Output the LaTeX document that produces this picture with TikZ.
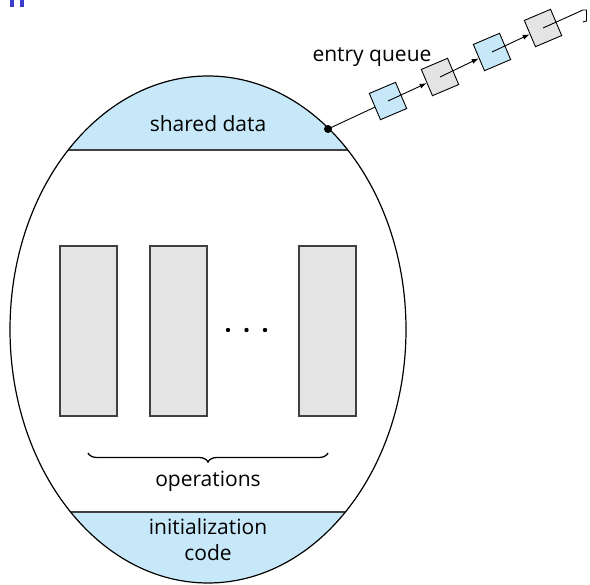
\documentclass[tikz,border=0pt]{standalone}
\usepackage{fontspec}
\setmainfont{Open Sans}
\usetikzlibrary{decorations.pathreplacing,arrows.meta}
\definecolor{bandblue}{HTML}{C7E8F8}
\definecolor{boxgray}{HTML}{E4E4E4}
\definecolor{edgegray}{HTML}{404040}
\definecolor{titleblue}{HTML}{3C3CCC}
\tikzset{
  opbox/.style={draw=edgegray, fill=boxgray, line width=1.2pt, minimum width=57pt, minimum height=170pt, inner sep=0pt},
  qbox/.style={draw=black, line width=0.9pt, minimum size=28.5pt, inner sep=0pt, rotate=23},
  lbl/.style={font=\fontsize{21}{24}\selectfont, inner sep=0pt},
  ptr/.style={line width=0.9pt, -{Latex[length=7pt,width=5pt]}},
}
\begin{document}
\begin{tikzpicture}[x=1pt,y=-1pt]
\useasboundingbox (0,0) rectangle (590,585);
% cut-off title fragment
\fill[titleblue] (10,0) rectangle (13.5,7);
\fill[titleblue] (20,0) rectangle (23.5,7);
% blue bands
\begin{scope}
  \clip (208,329.5) ellipse [x radius=198, y radius=253.5];
  \fill[bandblue] (0,0) rectangle (590,150);
  \fill[bandblue] (0,512) rectangle (590,585);
  \draw[edgegray, line width=1.2pt] (0,150) -- (590,150);
  \draw[edgegray, line width=1.2pt] (0,512) -- (590,512);
\end{scope}
\draw[line width=1.2pt] (208,329.5) ellipse [x radius=198, y radius=253.5];
% labels
\node[lbl] (shared) at (208,124) {shared data};
\node[lbl] (ops) at (208,481) {operations};
\node[lbl, align=center, font=\fontsize{21}{26}\selectfont] (init) at (208,540) {initialization\\code};
% operation boxes
\node[opbox] (op1) at (88.5,331) {};
\node[opbox] (op2) at (178.5,331) {};
\node[opbox] (op3) at (327.5,331) {};
\fill (228,330) circle (2.2);
\fill (246.5,330) circle (2.2);
\fill (265,330) circle (2.2);
% brace
\draw[line width=1.3pt, decorate, decoration={brace, amplitude=9pt, mirror}] (88,453) -- (328,453);
% entry queue
\node[lbl] (eq) at (372,57) {entry queue};
\fill (328,129) circle (4);
\coordinate (dot) at (328,129);
\node[qbox, fill=bandblue] (q1) at (388,101) {};
\node[qbox, fill=boxgray] (q2) at (440,77) {};
\node[qbox, fill=bandblue] (q3) at (492,52) {};
\node[qbox, fill=boxgray] (q4) at (543,28) {};
\draw[line width=0.9pt] (dot) -- (q1);
\draw[ptr] (q1.center) -- (q2);
\draw[ptr] (q2.center) -- (q3);
\draw[ptr] (q3.center) -- (q4);
\coordinate (qend) at (583,10);
\draw[line width=0.9pt] (q4.center) -- (qend) -- ++(3.5,0) -- ++(0,11) -- ++(-3.5,1);
\end{tikzpicture}
\end{document}
